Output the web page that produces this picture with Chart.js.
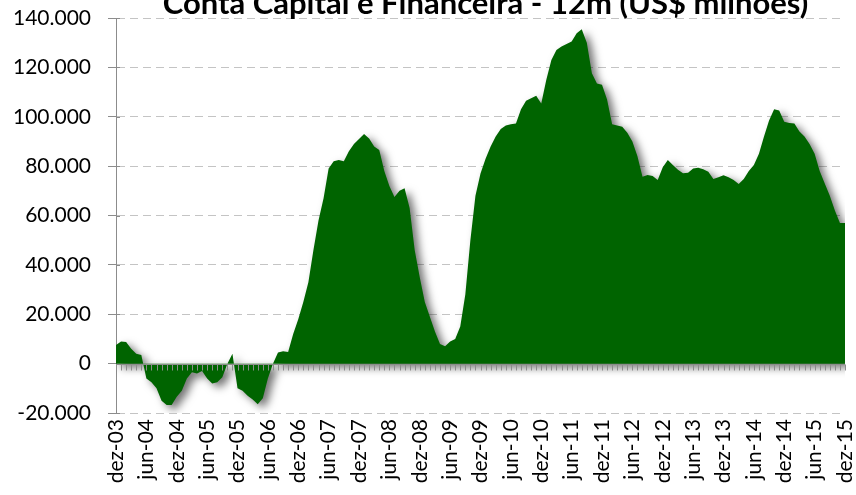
<!DOCTYPE html>
<html lang="pt-BR">
<head>
<meta charset="utf-8">
<title>Conta Capital e Financeira - 12m</title>
<script src="https://cdn.jsdelivr.net/npm/chart.js@4.4.1/dist/chart.umd.min.js"></script>
<style>
  html, body { margin: 0; padding: 0; background: #fff; }
</style>
</head>
<body>
<canvas id="chart" width="856" height="495"></canvas>
<script>
// Conta Capital e Financeira, acumulado 12 meses (US$ milhões), dez-03 a dez-15
const chartTitle = 'Conta Capital e Financeira - 12m (US$ milhões)';
const monthNames = ['jan', 'fev', 'mar', 'abr', 'mai', 'jun', 'jul', 'ago', 'set', 'out', 'nov', 'dez'];
const firstYear = 2003;
const firstMonth = 11; // dez
const labelEvery = 6;

const contaCapital = [
    7500, 9000, 8800, 6000, 4000, 3500, -6000, -7500, -10000, -15000, -16800, -16800, -13400,
    -11000, -6000, -3500, -4000, -3000, -6000, -8000, -7500, -5500, 0, 4000, -10000,
    -11000, -13000, -14500, -16500, -14000, -6000, 0, 4500, 5000, 4700, 12000, 18000,
    25000, 33000, 46000, 58000, 67000, 79000, 82000, 82500, 82000, 86000, 89000, 91000,
    93000, 91200, 88000, 86500, 78000, 72000, 67500, 70000, 71000, 63000, 46000, 35000,
    25000, 19000, 13000, 8000, 7000, 9000, 10000, 15000, 28000, 50000, 68000, 77000,
    83000, 88000, 92000, 95000, 96500, 97000, 97300, 103000, 106500, 107500, 108500, 105400,
    115000, 123000, 127000, 128500, 129500, 130500, 133800, 135400, 130000, 117600, 113500, 113000,
    107000, 97000, 96500, 96000, 93500, 90000, 84000, 75700, 76400, 76000, 74400, 79500,
    82500, 80500, 78500, 77100, 77300, 79000, 79300, 78700, 77700, 74800, 75500, 76300,
    75500, 74400, 72800, 74800, 78000, 80500, 85000, 92000, 98500, 103000, 102500, 98000,
    97500, 97300, 94000, 92000, 89000, 85000, 78000, 73000, 68000, 62000, 57000, 57000
];

const yMin = -20000;
const yMax = 140000;
const yStep = 20000;

// rótulos mensais: dez-03, jan-04, ...
const labels = contaCapital.map((v, i) => {
    const m = (firstMonth + i) % 12;
    const y = firstYear + Math.floor((firstMonth + i) / 12);
    return monthNames[m] + '-' + String(y % 100).padStart(2, '0');
});

function fmtMil(v) {
    const s = Math.abs(v).toString().replace(/\B(?=(\d{3})+(?!\d))/g, '.');
    return (v < 0 ? '-' : '') + s;
}

const axisGrey = '#8c8c8c';
const labelFont = { family: 'Lato', size: 21 };

// sombra da área, eixo do zero com marcas mensais e título (cortado no topo, como no original)
const areaStyle = {
    id: 'areaStyle',
    beforeDatasetsDraw(chart) {
        const c = chart.ctx;
        c.save();
        c.shadowColor = 'rgba(0, 0, 0, 0.55)';
        c.shadowBlur = 8;
        c.shadowOffsetX = 5;
        c.shadowOffsetY = 4;
    },
    afterDatasetsDraw(chart) {
        const { ctx, chartArea, scales } = chart;
        ctx.restore();
        const x = scales.x, y = scales.y;
        const y0 = Math.round(y.getPixelForValue(0)) + 0.5;
        ctx.save();
        ctx.strokeStyle = axisGrey;
        ctx.lineWidth = 1;
        ctx.beginPath();
        ctx.moveTo(chartArea.left, y0);
        ctx.lineTo(chartArea.right, y0);
        x.ticks.forEach((t, i) => {
            const px = Math.round(x.getPixelForTick(i)) + 0.5;
            ctx.moveTo(px, y0);
            ctx.lineTo(px, y0 + 6);
        });
        y.ticks.forEach((t, i) => {
            const py = Math.round(y.getPixelForTick(i)) + 0.5;
            ctx.moveTo(chartArea.left, py);
            ctx.lineTo(chartArea.left + 4, py);
        });
        ctx.stroke();
        ctx.restore();
    },
    afterDraw(chart) {
        const { ctx, chartArea } = chart;
        ctx.save();
        ctx.fillStyle = '#000';
        ctx.font = 'bold 31px Lato';
        ctx.textAlign = 'center';
        ctx.textBaseline = 'alphabetic';
        ctx.fillText(chartTitle, (chartArea.left + chartArea.right) / 2 + 5, 14);
        ctx.restore();
    }
};

const ctx = document.getElementById('chart').getContext('2d');
new Chart(ctx, {
    type: 'line',
    data: {
        labels: labels,
        datasets: [{
            label: 'Conta Capital e Financeira',
            data: contaCapital,
            fill: 'origin',
            backgroundColor: '#006400',
            borderColor: 'rgba(0, 0, 0, 0)',
            borderWidth: 0,
            pointRadius: 0,
            tension: 0
        }]
    },
    options: {
        responsive: false,
        animation: false,
        layout: { padding: { top: 18, right: 11, bottom: 0, left: 0 } },
        plugins: {
            legend: { display: false },
            tooltip: { enabled: false },
            title: { display: false }
        },
        scales: {
            x: {
                type: 'category',
                grid: { display: false, drawTicks: false },
                border: { display: false },
                ticks: {
                    autoSkip: false,
                    maxRotation: 90,
                    minRotation: 90,
                    padding: 6,
                    color: '#000',
                    font: labelFont,
                    callback: (v, i) => (i % labelEvery === 0 ? labels[i] : '')
                },
                afterFit: s => {
                    s.height = 82;
                    s.paddingLeft = 0;
                    s.paddingRight = 0;
                }
            },
            y: {
                min: yMin,
                max: yMax,
                ticks: {
                    stepSize: yStep,
                    padding: 17,
                    color: '#000',
                    font: labelFont,
                    callback: v => fmtMil(v)
                },
                grid: {
                    color: c => (c.tick && c.tick.value === 0 ? 'rgba(0,0,0,0)' : '#c4c4c4'),
                    tickColor: axisGrey,
                    tickLength: 8,
                    lineWidth: 1
                },
                border: { display: true, color: axisGrey, dash: [8, 5] },
                afterFit: s => {
                    s.width = 116;
                    s.paddingTop = 0;
                    s.paddingBottom = 0;
                }
            }
        }
    },
    plugins: [areaStyle]
});
</script>
</body>
</html>
